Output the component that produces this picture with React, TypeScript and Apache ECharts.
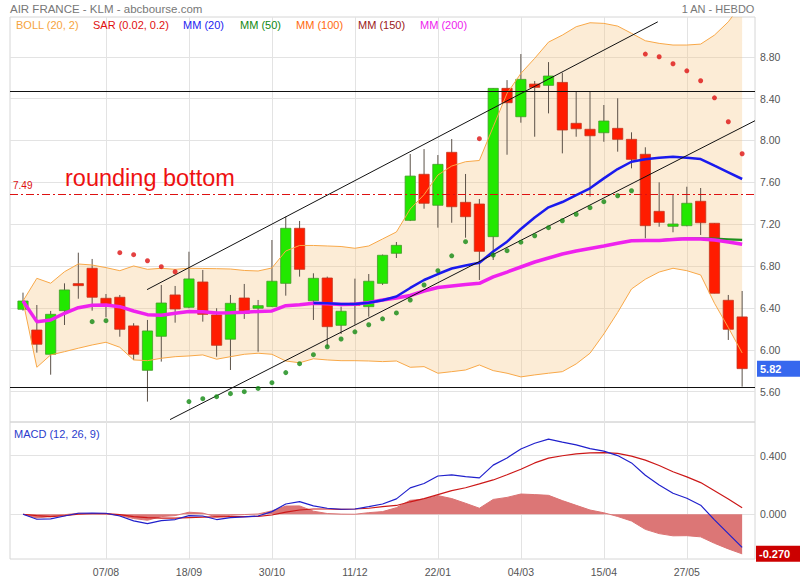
import React, { useEffect, useRef } from "react";
import * as echarts from "echarts";

// ---------- data ----------
const tickIndex = [6, 12, 18, 24, 30, 36, 42, 48];
const tickLabels = ["07/08", "18/09", "30/10", "11/12", "22/01", "04/03", "15/04", "27/05"];
const priceTicks = [5.6, 6.0, 6.4, 6.8, 7.2, 7.6, 8.0, 8.4, 8.8];
const macdTicks = [0, 0.4];

const opens = [6.387, 6.189, 5.957, 6.374, 6.632, 6.779, 6.492, 6.502, 6.228, 5.804, 6.129, 6.524, 6.406, 6.648, 6.333, 6.101, 6.495, 6.397, 6.412, 6.635, 7.161, 6.469, 6.686, 6.234, 6.445, 6.412, 6.635, 6.922, 7.237, 7.677, 7.381, 7.887, 7.409, 7.393, 7.081, 8.498, 8.227, 8.539, 8.527, 8.555, 8.164, 8.107, 8.074, 8.116, 8.011, 7.868, 7.323, 7.18, 7.186, 7.419, 7.209, 6.473, 6.314];
const closes = [6.466, 6.053, 6.339, 6.572, 6.617, 6.502, 6.428, 6.196, 5.957, 6.18, 6.447, 6.39, 6.677, 6.339, 6.043, 6.444, 6.349, 6.422, 6.655, 7.161, 6.769, 6.683, 6.221, 6.368, 6.44, 6.655, 6.903, 6.998, 7.66, 7.4, 7.772, 7.367, 7.272, 6.941, 8.498, 8.361, 8.584, 8.508, 8.616, 8.1, 8.112, 8.045, 8.186, 8.011, 7.82, 7.186, 7.218, 7.202, 7.4, 7.214, 6.54, 6.196, 5.82];
const lows = [6.374, 5.973, 5.762, 6.237, 6.488, 6.374, 6.311, 6.125, 5.903, 5.505, 5.887, 6.259, 6.397, 6.269, 5.934, 5.807, 6.295, 5.982, 6.41, 6.517, 6.699, 6.285, 6.03, 6.151, 6.24, 6.316, 6.62, 6.877, 7.23, 7.348, 7.167, 7.214, 7.071, 6.667, 6.858, 7.864, 8.17, 8.036, 8.259, 7.877, 8.036, 7.463, 7.988, 7.893, 7.734, 7.065, 7.176, 7.123, 7.18, 7.097, 6.54, 6.094, 5.648];
const highs = [6.546, 6.428, 6.371, 6.635, 6.928, 6.868, 6.533, 6.524, 6.254, 6.285, 6.619, 6.61, 6.937, 6.763, 6.397, 6.524, 6.629, 6.476, 7.049, 7.272, 7.231, 6.731, 6.699, 6.412, 6.68, 6.724, 6.91, 7.03, 7.871, 7.918, 7.861, 8.014, 7.68, 7.441, 8.5, 8.577, 8.826, 8.568, 8.749, 8.647, 8.466, 8.466, 8.339, 8.403, 8.078, 7.935, 7.6, 7.479, 7.558, 7.546, 7.209, 6.524, 6.562];

const bollUpper = [6.466, 6.683, 6.636, 6.746, 6.82, 6.81, 6.785, 6.756, 6.801, 6.769, 6.779, 6.769, 6.779, 6.777, 6.775, 6.772, 6.758, 6.753, 6.782, 6.944, 6.997, 6.997, 6.992, 6.987, 6.97, 6.992, 7.059, 7.126, 7.345, 7.482, 7.67, 7.756, 7.797, 7.809, 8.131, 8.45, 8.641, 8.785, 8.94, 9.007, 9.087, 9.125, 9.119, 9.093, 9.024, 8.953, 8.928, 8.912, 8.912, 8.921, 9.007, 9.134, 9.31];
const bollLower = [6.466, 5.833, 5.951, 5.982, 6.015, 6.046, 6.072, 6.024, 5.903, 5.896, 5.919, 5.934, 5.941, 5.951, 5.91, 5.934, 5.957, 5.967, 5.957, 5.893, 5.876, 5.914, 5.903, 5.896, 5.896, 5.893, 5.887, 5.893, 5.833, 5.839, 5.776, 5.791, 5.807, 5.855, 5.801, 5.776, 5.741, 5.76, 5.776, 5.791, 5.865, 5.967, 6.151, 6.357, 6.581, 6.674, 6.743, 6.779, 6.756, 6.715, 6.445, 6.213, 5.97];

const mm200 = [6.466, 6.269, 6.285, 6.349, 6.402, 6.425, 6.428, 6.412, 6.371, 6.336, 6.33, 6.349, 6.366, 6.364, 6.352, 6.355, 6.359, 6.366, 6.371, 6.421, 6.431, 6.444, 6.44, 6.433, 6.435, 6.452, 6.476, 6.495, 6.519, 6.562, 6.595, 6.61, 6.624, 6.635, 6.696, 6.743, 6.791, 6.839, 6.877, 6.915, 6.944, 6.968, 6.992, 7.018, 7.042, 7.044, 7.044, 7.054, 7.061, 7.059, 7.049, 7.03, 7.008];
const mm20From = 21;
const mm20 = [6.447, 6.445, 6.438, 6.438, 6.45, 6.473, 6.509, 6.591, 6.667, 6.724, 6.777, 6.806, 6.832, 6.939, 7.033, 7.154, 7.264, 7.361, 7.412, 7.479, 7.543, 7.638, 7.727, 7.797, 7.82, 7.835, 7.845, 7.835, 7.823, 7.759, 7.696, 7.632];
const mm50From = 46;
const mm50 = [7.046, 7.058, 7.066, 7.066, 7.062, 7.056, 7.05];

const sar = [null, null, null, null, null, 6.269, 6.278, 6.928, 6.909, 6.851, 6.794, 6.746, 5.505, 5.533, 5.552, 5.581, 5.6, 5.631, 5.686, 5.782, 5.867, 5.953, 6.029, 6.103, 6.172, 6.239, 6.296, 6.352, 6.476, 6.619, 6.756, 6.898, 7.033, 8.017, 6.906, 6.947, 7.028, 7.09, 7.167, 7.233, 7.295, 7.358, 7.415, 7.472, 7.52, 8.826, 8.8, 8.733, 8.666, 8.571, 8.408, 8.179, 7.873];

const macdLine = [0, -0.034, -0.032, -0.012, 0.007, 0.008, 0.007, -0.012, -0.045, -0.064, -0.043, -0.036, -0.009, -0.012, -0.036, -0.023, -0.018, -0.012, 0.018, 0.07, 0.086, 0.057, 0.041, 0.034, 0.036, 0.052, 0.07, 0.105, 0.18, 0.21, 0.261, 0.268, 0.256, 0.248, 0.335, 0.384, 0.445, 0.484, 0.512, 0.492, 0.473, 0.447, 0.43, 0.4, 0.35, 0.266, 0.2, 0.143, 0.109, 0.062, -0.038, -0.132, -0.226];
const signalLine = [0, -0.009, -0.016, -0.009, 0, 0.004, 0.005, -0.003, -0.016, -0.023, -0.027, -0.027, -0.023, -0.02, -0.018, -0.016, -0.016, -0.014, -0.005, 0.014, 0.029, 0.036, 0.036, 0.033, 0.036, 0.041, 0.052, 0.06, 0.085, 0.107, 0.134, 0.161, 0.181, 0.207, 0.234, 0.269, 0.307, 0.35, 0.383, 0.399, 0.412, 0.418, 0.42, 0.415, 0.396, 0.369, 0.332, 0.29, 0.255, 0.216, 0.16, 0.104, 0.044];

const resistanceLevel = 8.475;
const supportLevel = 5.64;
const neckLevel = 7.49;
const lastPrice = 5.82;
const lastHist = -0.27;
const channelUpper = [[8.97, 6.575], [45.9, 9.134]];
const channelLower = [[10.63, 5.333], [52.93, 8.189]];

const FONT = "'Liberation Sans', Arial, sans-serif";

function buildOption(): any {
  const n = opens.length;
  const candleData = opens.map((o, i) => [i, o, closes[i], lows[i], highs[i]]);
  const pairs = (arr: number[], from = 0) => arr.map((v, k) => [from + k, v]);
  const sarUp: number[][] = [];
  const sarDown: number[][] = [];
  sar.forEach((v, i) => {
    if (v == null) return;
    if (v > closes[i]) sarUp.push([i, v]);
    else sarDown.push([i, v]);
  });
  const hist = macdLine.map((v, i) => [i, +(v - signalLine[i]).toFixed(3)]);

  const xMin = -0.94;
  const xMax = 52.93;
  const gridLine = { show: true, lineStyle: { color: "#e3e3e3", width: 1 } };
  const hiddenLine = { color: "rgba(0,0,0,0)", width: 0, type: "solid" };

  const legend = [
    { t: "BOLL (20, 2)", x: 16, c: "#f6a33c" },
    { t: "SAR (0.02, 0.2)", x: 93, c: "#e01010" },
    { t: "MM (20)", x: 183, c: "#1c1cf0" },
    { t: "MM (50)", x: 240, c: "#118811" },
    { t: "MM (100)", x: 296, c: "#ff6a10" },
    { t: "MM (150)", x: 358, c: "#9a2020" },
    { t: "MM (200)", x: 420, c: "#ee22ee" },
  ];

  return {
    animation: false,
    textStyle: { fontFamily: FONT },
    grid: [
      { left: 10, right: 45, top: 17, height: 405, show: true, borderColor: "#d6d6d6", borderWidth: 1 },
      { left: 10, right: 45, top: 422, height: 137, show: true, borderColor: "#d6d6d6", borderWidth: 1 },
    ],
    xAxis: [
      {
        type: "value", gridIndex: 0, min: xMin, max: xMax,
        axisLine: { show: false }, axisTick: { show: false, customValues: tickIndex },
        axisLabel: { show: false, customValues: tickIndex }, splitLine: gridLine,
      },
      {
        type: "value", gridIndex: 1, min: xMin, max: xMax,
        axisLine: { show: false }, axisTick: { show: false, customValues: tickIndex },
        axisLabel: {
          show: true, customValues: tickIndex, margin: 7, color: "#555", fontSize: 10.5, fontFamily: FONT,
          formatter: (v: number) => tickLabels[tickIndex.indexOf(Math.round(v))] ?? "",
        },
        splitLine: gridLine,
      },
    ],
    yAxis: [
      {
        type: "value", gridIndex: 0, position: "right", min: 5.31, max: 9.18,
        axisLine: { show: false }, axisTick: { show: false, customValues: priceTicks },
        axisLabel: { customValues: priceTicks, margin: 5, color: "#555", fontSize: 10.5, fontFamily: FONT, formatter: (v: number) => v.toFixed(2) },
        splitLine: gridLine,
      },
      {
        type: "value", gridIndex: 1, position: "right", min: -0.305, max: 0.629,
        axisLine: { show: false }, axisTick: { show: false, customValues: macdTicks },
        axisLabel: { customValues: macdTicks, margin: 5, color: "#555", fontSize: 10.5, fontFamily: FONT, formatter: (v: number) => v.toFixed(3) },
        splitLine: gridLine,
      },
    ],
    graphic: [
      { type: "text", left: 10, top: 3, style: { text: "AIR FRANCE - KLM - abcbourse.com", fill: "#777", fontSize: 11.5, fontFamily: FONT } },
      { type: "text", right: 45, top: 3, style: { text: "1 AN - HEBDO", fill: "#777", fontSize: 11, fontFamily: FONT } },
      ...legend.map((l) => ({ type: "text", left: l.x, top: 19, z: 50, style: { text: l.t, fill: l.c, fontSize: 11, fontFamily: FONT } })),
      { type: "text", left: 65, top: 166, z: 50, style: { text: "rounding bottom", fill: "#ee1111", fontSize: 23.5, fontFamily: FONT } },
      { type: "text", left: 14, top: 428, z: 50, style: { text: "MACD (12, 26, 9)", fill: "#2b3bcc", fontSize: 11, fontFamily: FONT } },
    ],
    series: [
      // Bollinger fill
      {
        type: "custom", xAxisIndex: 0, yAxisIndex: 0, data: [[0, bollUpper[0]]], clip: true, silent: true, z: 1,
        renderItem: (_p: any, api: any) => {
          const pts: number[][] = [];
          for (let i = 0; i < n; i++) pts.push(api.coord([i, bollUpper[i]]));
          for (let i = n - 1; i >= 0; i--) pts.push(api.coord([i, bollLower[i]]));
          return { type: "polygon", shape: { points: pts }, style: { fill: "rgba(247,196,132,0.33)" } };
        },
      },
      // candles
      {
        type: "custom", xAxisIndex: 0, yAxisIndex: 0, data: candleData, clip: true, z: 2,
        encode: { x: 0, y: [1, 2, 3, 4] },
        renderItem: (_p: any, api: any) => {
          const i = api.value(0), o = api.value(1), c = api.value(2), l = api.value(3), h = api.value(4);
          const pH = api.coord([i, h]);
          const pL = api.coord([i, l]);
          const pO = api.coord([i, o]);
          const pC = api.coord([i, c]);
          const w = api.size([1, 0])[0] * 0.74;
          const up = c >= o;
          const top = Math.min(pO[1], pC[1]);
          const hgt = Math.max(Math.abs(pO[1] - pC[1]), 2);
          return {
            type: "group",
            children: [
              { type: "line", shape: { x1: pH[0], y1: pH[1], x2: pL[0], y2: pL[1] }, style: { stroke: "#5c5249", lineWidth: 1 } },
              {
                type: "rect", shape: { x: pO[0] - w / 2, y: top, width: w, height: hgt },
                style: { fill: up ? "#22e800" : "#ff1c00", stroke: up ? "#449c28" : "#c4361e", lineWidth: 0.8 },
              },
            ],
          };
        },
      },
      // Bollinger lines
      { type: "line", xAxisIndex: 0, yAxisIndex: 0, data: pairs(bollUpper), symbol: "none", z: 3, lineStyle: { color: "#f8a848", width: 1 } },
      { type: "line", xAxisIndex: 0, yAxisIndex: 0, data: pairs(bollLower), symbol: "none", z: 3, lineStyle: { color: "#f8a848", width: 1 } },
      // MM 50 (under MM200)
      { type: "line", xAxisIndex: 0, yAxisIndex: 0, data: pairs(mm50, mm50From), symbol: "none", z: 4, lineStyle: { color: "#1f8f1f", width: 2.2 } },
      // MM 200
      {
        type: "line", xAxisIndex: 0, yAxisIndex: 0, data: pairs(mm200), symbol: "none", z: 4, lineStyle: { color: "#ee22ee", width: 3.5 },
        markLine: {
          symbol: ["none", "none"], silent: true,
          data: [
            { yAxis: resistanceLevel, lineStyle: { color: "#111", width: 1, type: "solid" }, label: { show: false } },
            { yAxis: supportLevel, lineStyle: { color: "#111", width: 1, type: "solid" }, label: { show: false } },
            {
              yAxis: neckLevel, lineStyle: { color: "#dd1111", width: 1, type: [8, 3, 2, 3] },
              label: { show: true, position: "insideStartTop", distance: 3, formatter: neckLevel.toFixed(2), color: "#dd1111", fontSize: 10, fontFamily: FONT },
            },
            {
              yAxis: lastPrice, lineStyle: hiddenLine,
              label: {
                show: true, opacity: 1, position: "end", distance: 2, formatter: lastPrice.toFixed(2), color: "#fff", fontWeight: "bold",
                fontSize: 11, fontFamily: FONT, backgroundColor: "#3768ee", padding: [3, 20, 2, 3],
              },
            },
          ],
        },
      },
      // MM 20
      { type: "line", xAxisIndex: 0, yAxisIndex: 0, data: pairs(mm20, mm20From), symbol: "none", z: 5, lineStyle: { color: "#1a1aee", width: 2.5 } },
      // trend channel
      { type: "line", xAxisIndex: 0, yAxisIndex: 0, data: channelUpper, symbol: "none", z: 6, lineStyle: { color: "#111", width: 1 } },
      { type: "line", xAxisIndex: 0, yAxisIndex: 0, data: channelLower, symbol: "none", z: 6, lineStyle: { color: "#111", width: 1 } },
      // SAR
      { type: "scatter", xAxisIndex: 0, yAxisIndex: 0, data: sarUp, symbolSize: 5, z: 7, itemStyle: { color: "#dd1111" } },
      { type: "scatter", xAxisIndex: 0, yAxisIndex: 0, data: sarDown, symbolSize: 5, z: 7, itemStyle: { color: "#118a11" } },
      // MACD histogram
      {
        type: "line", xAxisIndex: 1, yAxisIndex: 1, data: hist, symbol: "none", z: 2,
        lineStyle: { width: 1, color: "#db7474" }, areaStyle: { color: "#dc7676", opacity: 1 },
      },
      { type: "line", xAxisIndex: 1, yAxisIndex: 1, data: pairs(signalLine), symbol: "none", z: 3, lineStyle: { color: "#cc1818", width: 1.2 } },
      {
        type: "line", xAxisIndex: 1, yAxisIndex: 1, data: pairs(macdLine), symbol: "none", z: 4, lineStyle: { color: "#2020cc", width: 1.2 },
        markLine: {
          symbol: ["none", "none"], silent: true,
          data: [
            { yAxis: 0, lineStyle: hiddenLine, label: { show: false } },
            {
              yAxis: lastHist, lineStyle: hiddenLine,
              label: {
                show: true, opacity: 1, position: "end", distance: 1, formatter: lastHist.toFixed(3), color: "#fff", fontWeight: "bold",
                fontSize: 11, fontFamily: FONT, backgroundColor: "#cc0000", padding: [3, 12, 2, 3],
              },
            },
          ],
        },
      },
    ],
  };
}

export default function App() {
  const ref = useRef<HTMLDivElement>(null);
  useEffect(() => {
    document.body.style.margin = "0";
    const chart = echarts.init(ref.current as HTMLDivElement, null, { renderer: "svg" });
    chart.setOption(buildOption());
    return () => chart.dispose();
  }, []);
  return <div ref={ref} style={{ width: 800, height: 580 }} />;
}
